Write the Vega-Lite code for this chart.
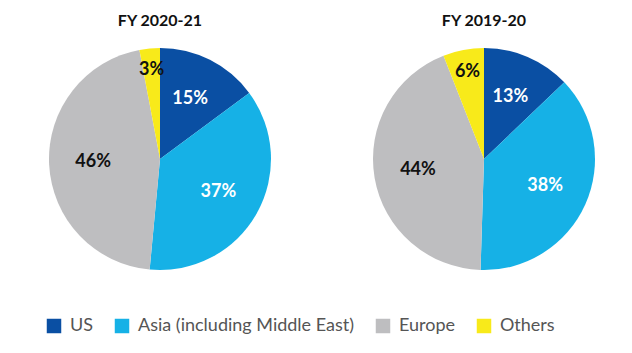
{
  "$schema": "https://vega.github.io/schema/vega-lite/v6.json",
  "padding": {"left": 45, "top": 13, "right": 5, "bottom": 5},
  "background": "white",
  "data": {"values": [
    {"year": "FY 2020-21", "region": "US", "idx": 1, "share": 15, "label": "15%"},
    {"year": "FY 2020-21", "region": "Asia (including Middle East)", "idx": 2, "share": 37, "label": "37%"},
    {"year": "FY 2020-21", "region": "Europe", "idx": 3, "share": 46, "label": "46%"},
    {"year": "FY 2020-21", "region": "Others", "idx": 4, "share": 3, "label": "3%"},
    {"year": "FY 2019-20", "region": "US", "idx": 1, "share": 13, "label": "13%"},
    {"year": "FY 2019-20", "region": "Asia (including Middle East)", "idx": 2, "share": 38, "label": "38%"},
    {"year": "FY 2019-20", "region": "Europe", "idx": 3, "share": 44, "label": "44%"},
    {"year": "FY 2019-20", "region": "Others", "idx": 4, "share": 6, "label": "6%"}
  ]},
  "facet": {
    "column": {
      "field": "year", "type": "nominal", "sort": ["FY 2020-21", "FY 2019-20"],
      "header": {"title": null, "labelFont": "Lato", "labelFontSize": 16, "labelFontWeight": "bold", "labelColor": "#111", "labelPadding": 15}
    }
  },
  "spacing": 94,
  "spec": {
    "width": 230, "height": 230,
    "encoding": {
      "theta": {"field": "share", "type": "quantitative", "stack": true},
      "order": {"field": "idx", "type": "quantitative"}
    },
    "layer": [
      {
        "mark": {"type": "arc", "outerRadius": 111},
        "encoding": {
          "color": {"field": "region", "type": "nominal",
            "scale": {"domain": ["US", "Asia (including Middle East)", "Europe", "Others"],
                      "range": ["#0A4FA3", "#16B1E6", "#BEBEC0", "#F8EA1A"]},
            "legend": {"title": null, "orient": "bottom", "direction": "horizontal", "symbolType": "square", "symbolSize": 210, "symbolStrokeWidth": 0, "labelFont": "Lato", "labelFontSize": 18, "labelColor": "#555", "labelLimit": 0, "columnPadding": 19, "labelOffset": 7, "offset": 43, "symbolOpacity": 1}
          }
        }
      },
      {
        "mark": {"type": "text", "radius": 67, "font": "Lato", "fontSize": 18, "fontWeight": "bold"},
        "encoding": {
          "text": {"condition": {"test": "datum.idx < 4", "field": "label", "type": "nominal"}, "value": ""},
          "color": {"condition": {"test": "datum.idx <= 2", "value": "white"}, "value": "#111"}
        }
      },
      {
        "mark": {"type": "text", "radius": 89, "font": "Lato", "fontSize": 18, "fontWeight": "bold", "color": "#111"},
        "encoding": {
          "text": {"condition": {"test": "datum.idx == 4", "field": "label", "type": "nominal"}, "value": ""}
        }
      }
    ]
  },
  "config": {"view": {"stroke": null}}
}
